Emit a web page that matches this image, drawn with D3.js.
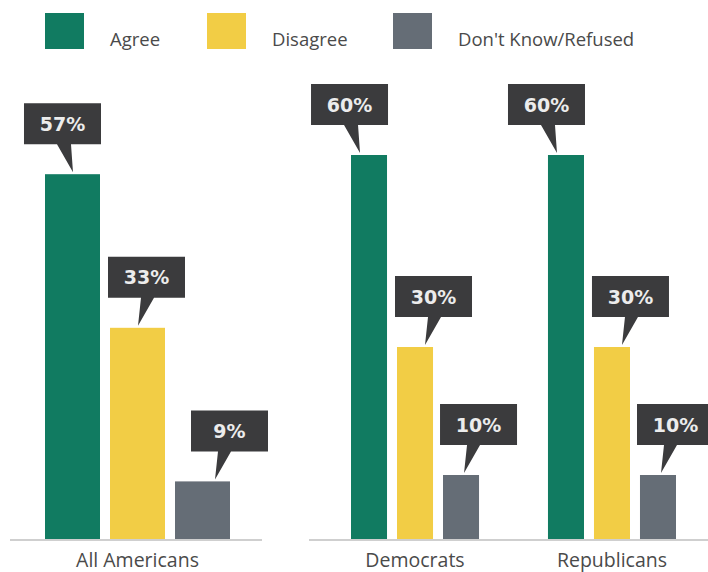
<!DOCTYPE html>
<html>
<head>
<meta charset="utf-8">
<script src="https://cdn.jsdelivr.net/npm/d3@7"></script>
<style>
  html, body { margin: 0; padding: 0; background: #ffffff; }
  svg { display: block; }
</style>
</head>
<body>
<svg id="chart" width="708" height="572"></svg>
<script>
// Survey responses by group (percent)
const series = ["Agree", "Disagree", "Don't Know/Refused"];
const leftGroups = ["All Americans"];
const rightGroups = ["Democrats", "Republicans"];
const agree = [57, 60, 60];
const disagree = [33, 30, 30];
const dontKnow = [9, 10, 10];
const groups = leftGroups.concat(rightGroups);

const colors = ["#117b61", "#f2cd45", "#656d76"];

const svg = d3.select("#chart");
const baseY = 539;

const y = d3.scaleLinear().domain([0, 60]).range([baseY, 155]);
const color = d3.scaleOrdinal().domain(series).range(colors);

const valuesFor = gi => [agree[gi], disagree[gi], dontKnow[gi]];

// Legend
const legendPos = { "Agree": 45, "Disagree": 207, "Don't Know/Refused": 393 };
const leg = svg.append("g").attr("class", "legend");
series.forEach(s => {
  const g = leg.append("g").attr("transform", `translate(${legendPos[s]},13)`);
  g.append("rect").attr("width", 39).attr("height", 36).attr("fill", color(s));
  g.append("text").attr("x", 65).attr("y", 33)
    .attr("font-family", "'Open Sans', sans-serif").attr("font-size", 18.5)
    .attr("fill", "#4a4a4a").text(s);
});

// Panels: each has its own outer band (groups) and inner band (series)
const panels = [
  { groups: leftGroups, range: [45, 230], outerPad: 0, innerPad: 0.154, line: [10, 262] },
  { groups: rightGroups, range: [351, 676], outerPad: 0.35, innerPad: 0.217, line: [309, 708] }
];

const fontLabel = "'DejaVu Sans', sans-serif";

panels.forEach(p => {
  const x0 = d3.scaleBand().domain(p.groups).range(p.range).paddingInner(p.outerPad).paddingOuter(0);
  const x1 = d3.scaleBand().domain(series).range([0, x0.bandwidth()]).paddingInner(p.innerPad).paddingOuter(0);

  // baseline
  svg.append("line")
    .attr("x1", p.line[0]).attr("x2", p.line[1])
    .attr("y1", baseY + 1).attr("y2", baseY + 1)
    .attr("stroke", "#cfcfcf").attr("stroke-width", 2);

  p.groups.forEach(gName => {
    const gi = groups.indexOf(gName);
    const vals = valuesFor(gi);
    const gx = x0(gName);

    series.forEach((s, si) => {
      const v = vals[si];
      const bx = gx + x1(s);
      const bw = x1.bandwidth();
      const top = y(v);

      svg.append("rect")
        .attr("x", bx).attr("y", top)
        .attr("width", bw).attr("height", baseY - top)
        .attr("fill", color(s));

      // callout box placement
      const boxW = 77, boxH = 41;
      let boxX, tipX, baseA, baseB;
      if (si === 0) {
        boxX = bx + bw - boxW + 1;
        tipX = bx + bw - 27;
        baseA = tipX - 16; baseB = tipX - 2;
      } else if (si === 1) {
        boxX = bx - 2;
        tipX = bx + 28;
        baseA = tipX + 3; baseB = tipX + 16;
      } else {
        boxX = bx + bw + 38 - boxW;
        tipX = bx + bw - 15;
        baseA = tipX + 3; baseB = tipX + 16;
      }
      const boxBottom = top - 30;
      const boxTop = boxBottom - boxH;
      const tipY = top - 2;

      const call = svg.append("g").attr("class", "callout");
      call.append("path")
        .attr("d", `M${boxX},${boxTop}H${boxX + boxW}V${boxBottom}H${baseB}L${tipX},${tipY}L${baseA},${boxBottom}H${boxX}Z`)
        .attr("fill", "#3b3b3d");
      call.append("text")
        .attr("x", boxX + boxW / 2).attr("y", boxTop + boxH / 2 + 7)
        .attr("text-anchor", "middle")
        .attr("font-family", fontLabel).attr("font-weight", "bold")
        .attr("font-size", 19).attr("fill", "#ececec")
        .text(v + "%");
    });

    // group label
    svg.append("text")
      .attr("x", gx + x0.bandwidth() / 2).attr("y", 567)
      .attr("text-anchor", "middle")
      .attr("font-family", "'Open Sans', sans-serif").attr("font-size", 19.5)
      .attr("fill", "#4a4a4a").text(gName);
  });
});
</script>
</body>
</html>
